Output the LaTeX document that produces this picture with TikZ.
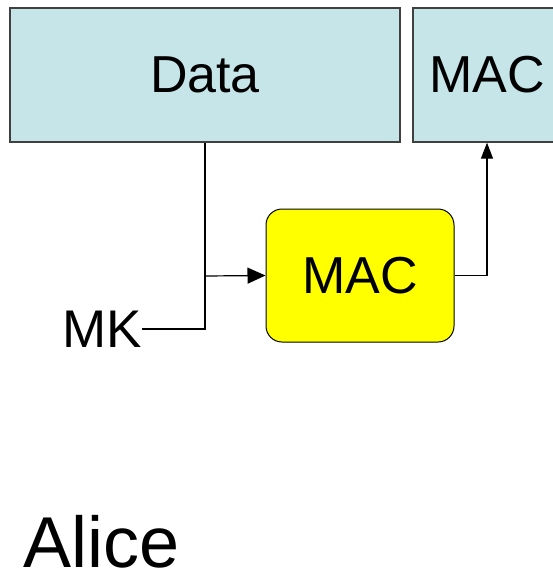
\documentclass[tikz,border=0pt]{standalone}
\usepackage{fontspec}
\setmainfont{Liberation Sans}
\usetikzlibrary{arrows.meta}
\definecolor{boxblue}{HTML}{C6E5E8}
\definecolor{edgegray}{HTML}{404040}
\definecolor{macyellow}{HTML}{FFFF00}
\begin{document}
\begin{tikzpicture}[x=1pt,y=-1pt,
  field/.style={draw=edgegray,fill=boxblue,line width=1.3pt,inner sep=0pt,font=\fontsize{52}{60}\selectfont},
  macbox/.style={draw=black,fill=macyellow,line width=1pt,rounded corners=16pt,inner sep=0pt,font=\fontsize{52}{60}\selectfont},
  wire/.style={draw=black,line width=1.2pt},
  arrbig/.style={wire,-{Triangle[length=18pt,width=16pt]}},
  arrsmall/.style={wire,-{Triangle[length=16pt,width=12pt]}},
  lbl/.style={inner sep=0pt,font=\fontsize{53}{60}\selectfont}]
\useasboundingbox (0,0) rectangle (553,576);
\begin{scope}
\clip (0,0) rectangle (553,576);
\node[field,minimum width=390pt,minimum height=134pt] (data) at (205,75) {Data};
\node[field,minimum width=148pt,minimum height=134pt] (mac) at (487,75) {MAC};
\end{scope}
\node[macbox,minimum width=188pt,minimum height=133pt] (f) at (360,275.5) {MAC};
\node[lbl,anchor=east] (mk) at (142,329) {MK};
\node[inner sep=0pt,anchor=base west,font=\fontsize{72}{80}\selectfont] (alice) at (23,567) {Alice};
\coordinate (j) at (205,329);
\coordinate (t) at (205,276);
\draw[wire] (mk.east) -- (j) -- (data.south -| j);
\draw[arrbig] (t) -- (f.west);
\draw[arrsmall] (f.east) -| (mac.south);
\end{tikzpicture}
\end{document}
